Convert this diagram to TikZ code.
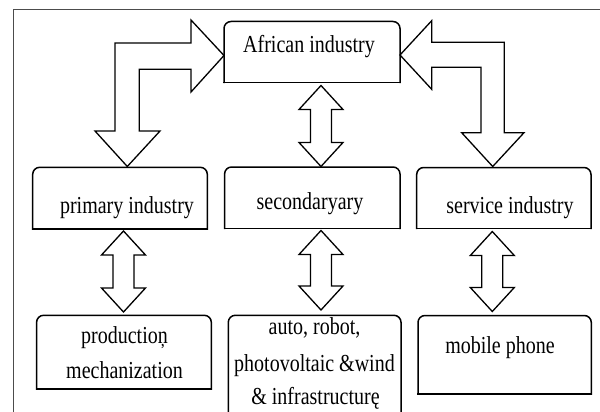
\documentclass[tikz,border=0pt]{standalone}
\usepackage{graphicx}
\usepackage{fontspec}
\setmainfont{Liberation Serif}
\tikzset{
  boxline/.style={draw=black, line width=1.5pt, line cap=rect, rounded corners=7pt},
  arr/.style={draw=black, line width=1.3pt, fill=white, line join=miter},
  lbl/.style={font=\fontsize{20}{24}\selectfont, anchor=base, inner sep=0pt, text=black},
  frameline/.style={draw=black!70, line width=0.9pt}
}
\newcommand\tallt[1]{\scalebox{1}[1.22]{#1}}
\newcommand\topbox[5]{%
  \node[inner sep=0pt, outer sep=0pt, minimum width={(#4-#2)*1pt}, minimum height={(#5-#3)*1pt}] (#1) at ({(#2+#4)/2},{(#3+#5)/2}) {};
  \draw[boxline] (#1.south west) -- (#1.north west) -- (#1.north east) -- (#1.south east);
  \draw[boxline, sharp corners] (#1.south west) -- (#1.south east);
}
\newcommand\dblarr[3]{%
  \draw[arr] (#1,#2) -- ({#1+22},{#2+24}) -- ({#1+10.5},{#2+24}) -- ({#1+10.5},{#3-24}) -- ({#1+22},{#3-24})
    -- (#1,#3) -- ({#1-22},{#3-24}) -- ({#1-10.5},{#3-24}) -- ({#1-10.5},{#2+24}) -- ({#1-22},{#2+24}) -- cycle;
}
\begin{document}
\begin{tikzpicture}[x=1pt, y=-1pt]
\useasboundingbox (0,0) rectangle (600,412);
% frame
\coordinate (fr0) at (13.5,412);
\coordinate (fr1) at (13.5,9.5);
\coordinate (fr2) at (600,9.5);
\draw[frameline] (fr0) -- (fr1) -- (fr2);

% boxes
\topbox{afr}{224}{21.5}{400}{82.5}
\topbox{prim}{32.7}{167.3}{207.3}{229}
\topbox{sec}{224.6}{167}{400}{228.3}
\topbox{serv}{416.7}{167.5}{591}{228.3}
\topbox{prod}{36.6}{315.3}{211.3}{389}
\topbox{mob}{418}{315.5}{591.3}{394}
% auto box (cut off at the bottom)
\node[inner sep=0pt, outer sep=0pt, minimum width=172.7pt, minimum height=115pt] (auto) at (314.65,372.8) {};
\draw[boxline] (auto.south west) -- (auto.north west) -- (auto.north east) -- (auto.south east);

% bent arrows
\draw[arr] (afr.west) ++(0,3.5) coordinate (tl)
  (tl) -- (191,20) -- (191,43) -- (115,43) -- (115,131) -- (95,131) -- (127.3,166.5)
  -- (160,131) -- (139.3,131) -- (139.3,69.3) -- (191,69.3) -- (191,92) -- cycle;
\draw[arr] (afr.east) ++(0,3) coordinate (tr)
  (tr) -- (431.7,20.7) -- (431.7,42.3) -- (504.3,42.3) -- (504.3,132.7) -- (524,132.7) -- (492.7,166.5)
  -- (461.7,132.7) -- (481,132.7) -- (481,67.3) -- (431.7,67.3) -- (431.7,89.3) -- cycle;

% double arrows
\dblarr{321}{85.5}{166.5}
\dblarr{123.5}{231}{312}
\dblarr{321}{230.5}{310}
\dblarr{492.3}{231.5}{311.5}

% texts
\node[lbl] (tafr) at (309,53) {\tallt{African industry}};
\node[lbl] (tprim) at (127,213) {\tallt{primary industry}};
\node[lbl] (tsec) at (310,209) {\tallt{secondaryary}};
\node[lbl] (tserv) at (510,213) {\tallt{service industry}};
\node[lbl] (tprod1) at (124.5,343.7) {\tallt{productioņ}};
\node[lbl] (tprod2) at (124.5,378.4) {\tallt{mechanization}};
\node[lbl] (tauto1) at (314.5,334) {\tallt{auto, robot,}};
\node[lbl] (tauto2) at (314.5,371) {\tallt{photovoltaic \&wind}};
\node[lbl] (tauto3) at (315.5,404.3) {\tallt{\& infrastructurę}};
\node[lbl] (tmob) at (500,353.6) {\tallt{mobile phone}};
\end{tikzpicture}
\end{document}
